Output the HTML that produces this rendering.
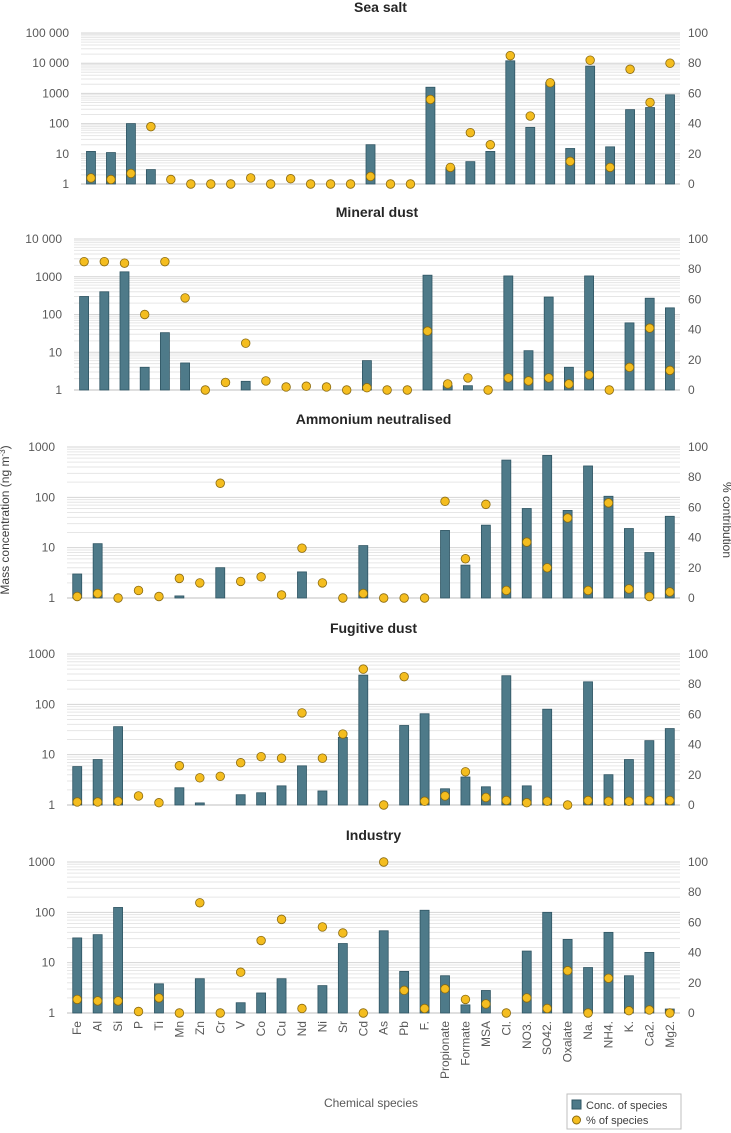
<!DOCTYPE html>
<html><head><meta charset="utf-8"><style>
html,body{margin:0;padding:0;background:#fff;}
svg{display:block;font-family:"Liberation Sans",Arial,sans-serif;}
</style></head><body>
<svg id="chart" width="731" height="1133" viewBox="0 0 731 1133" xmlns="http://www.w3.org/2000/svg">
<text x="9" y="520" transform="rotate(-90 9 520)" text-anchor="middle" font-size="12" fill="#404040">Mass concentration (ng m<tspan dy="-4" font-size="8">-3</tspan><tspan dy="4">)</tspan></text>
<text x="723" y="520" transform="rotate(90 723 520)" text-anchor="middle" font-size="12" fill="#404040">% contribution</text>
<text x="371" y="1107" text-anchor="middle" font-size="12" fill="#595959">Chemical species</text>
<g>
<rect x="567" y="1094" width="114" height="35" fill="#fff" stroke="#bfbfbf"/>
<rect x="572" y="1100" width="9" height="9" fill="#4e7a89" stroke="#2f5563"/>
<text x="586" y="1109" font-size="11" fill="#404040">Conc. of species</text>
<circle cx="576.5" cy="1120" r="4" fill="#f4bd1f" stroke="#8a6a10"/>
<text x="586" y="1124" font-size="11" fill="#404040">% of species</text>
</g>
</svg>
<script>
const categories = ["Fe","Al","Si","P","Ti","Mn","Zn","Cr","V","Co","Cu","Nd","Ni","Sr","Cd","As","Pb","F.","Propionate","Formate","MSA","Cl.","NO3.","SO42.","Oxalate","Na.","NH4.","K.","Ca2.","Mg2."];
const panelTitles = ["Sea salt","Mineral dust","Ammonium neutralised","Fugitive dust","Industry"];
const seaSaltConc = [12,11,100,3,null,null,null,null,null,null,null,null,null,null,20,null,null,1600,3.5,5.5,12,12000,75,2300,15,8000,17,290,340,900];
const seaSaltPct = [4,3,7,38,3,0,0,0,4,0,3.5,0,0,0,5,0,0,56,11,34,26,85,45,67,15,82,11,76,54,80];
const mineralConc = [300,400,1350,4,33,5.2,null,null,1.7,null,null,null,null,null,6,null,null,1100,1.3,1.3,null,1050,11,290,4,1050,null,60,270,150];
const mineralPct = [85,85,84,50,85,61,0,5,31,6,2,2.5,2,0,1.5,0,0,39,4,8,0,8,6,8,4,10,0,15,41,13];
const ammoniumConc = [3,12,null,null,null,1.1,null,4,null,null,null,3.3,null,null,11,null,null,null,22,4.5,28,550,60,680,55,420,105,24,8,42];
const ammoniumPct = [1,3,0,5,1,13,10,76,11,14,2,33,10,0,3,0,0,0,64,26,62,5,37,20,53,5,63,6,1,4];
const fugitiveConc = [5.8,8,36,null,null,2.2,1.1,null,1.6,1.75,2.4,6,1.9,22,380,null,38,65,2.1,3.6,2.3,370,2.4,80,null,280,4,8,19,33];
const fugitivePct = [2,2,2.5,6,1.5,26,18,19,28,32,31,61,31,47,90,0,85,2.5,6,22,5,3,1.5,2.5,0,3,2.5,2.5,3,3];
const industryConc = [31,36,125,null,3.8,null,4.8,null,1.6,2.5,4.8,null,3.5,24,null,43,6.7,110,5.5,1.45,2.8,null,17,100,29,8,40,5.5,16,1.2];
const industryPct = [9,8,8,1,10,0,73,0,27,48,62,3,57,53,0,100,15,3,16,9,6,0,10,3,28,0,23,1.5,2,0];
const leftTickLabels = [["1","10","100","1000","10 000","100 000"],["1","10","100","1000","10 000"],["1","10","100","1000"],["1","10","100","1000"],["1","10","100","1000"]];
const rightTickLabels = ["0","20","40","60","80","100"];

const NS="http://www.w3.org/2000/svg";
const svg=document.getElementById('chart');
function mk(tag,attrs,parent){const e=document.createElementNS(NS,tag);for(const k in attrs)e.setAttribute(k,attrs[k]);(parent||svg).appendChild(e);return e;}
const concSets=[seaSaltConc,mineralConc,ammoniumConc,fugitiveConc,industryConc];
const pctSets=[seaSaltPct,mineralPct,ammoniumPct,fugitivePct,industryPct];
const layouts=[{title:12,top:33,bottom:184,left:81},{title:217,top:239,bottom:390,left:74},{title:424,top:447,bottom:598,left:67},{title:633,top:654,bottom:805,left:67},{title:840,top:862,bottom:1013,left:67}];
const right=680;
layouts.forEach((L,p)=>{
  const g=mk('g',{});
  
  
  const decades=leftTickLabels[p].length-1;
  const yLog=v=>L.bottom-(Math.log10(v)/decades)*(L.bottom-L.top);
  const yPct=v=>L.bottom-(v/100)*(L.bottom-L.top);
  const step=(right-L.left)/categories.length;
  const xC=i=>L.left+step*(i+0.5);
  const t=mk('text',{x:(L.left+right)/2,y:L.title,'text-anchor':'middle','font-size':'14','font-weight':'bold',fill:'#262626'},g);
  t.textContent=panelTitles[p];
  
  
  for(let d=0;d<decades;d++){for(let k=2;k<=9;k++){const y=yLog(Math.pow(10,d)*k);
    const ln=mk('line',{x1:L.left,x2:right,y1:y,y2:y,stroke:'#e6e6e6','stroke-width':'1'},g);
    
    }}
  leftTickLabels[p].forEach((lab,d)=>{const y=yLog(Math.pow(10,d));
    const ln=mk('line',{x1:L.left,x2:right,y1:y,y2:y,stroke:d===0?'#bfbfbf':'#d4d4d4','stroke-width':'1'},g);
    
    
    const tx=mk('text',{x:L.left-12,y:y+4,'text-anchor':'end','font-size':'12',fill:'#595959'},g);
    tx.textContent=lab;
    
    });
  rightTickLabels.forEach(lab=>{const y=yPct(+lab);
    const tx=mk('text',{x:688,y:y+4,'font-size':'12',fill:'#595959'},g);
    tx.textContent=lab;
    
    });
  concSets[p].forEach((v,i)=>{if(v==null)return;const y=yLog(v);
    const r=mk('rect',{x:xC(i)-4.5,y:y,width:9,height:L.bottom-y,fill:'#4e7a89',stroke:'#2f5563','stroke-width':'0.8'},g);
    
    });
  pctSets[p].forEach((v,i)=>{if(v==null)return;
    const c=mk('circle',{cx:xC(i),cy:yPct(v),r:4.3,fill:'#f4bd1f',stroke:'#8a6a10','stroke-width':'0.8'},g);
    
    });
  if(p===4){categories.forEach((c,i)=>{const x=xC(i)+4,y=1021;
    const tx=mk('text',{x:x,y:y,transform:'rotate(-90 '+x+' '+y+')','text-anchor':'end','font-size':'12',fill:'#595959'},g);
    tx.textContent=c;
    
    });}
});
</script>
</body></html>
